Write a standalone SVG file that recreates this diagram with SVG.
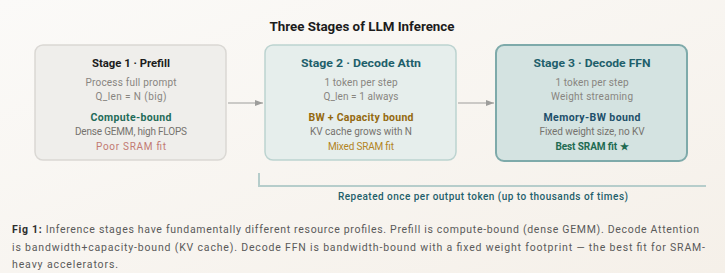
<svg xmlns="http://www.w3.org/2000/svg" width="725" height="273" viewBox="0 0 725 273">
<defs>
<linearGradient id="bg" x1="0" y1="0" x2="1" y2="1">
<stop offset="0" stop-color="#fbfaf8"/>
<stop offset="1" stop-color="#f5f0e9"/>
</linearGradient>
<marker id="arr" viewBox="0 0 8 6" refX="8" refY="3" markerWidth="8" markerHeight="6" orient="auto" markerUnits="userSpaceOnUse">
<path d="M0,0 L8,3 L0,6 Z" fill="#9d9d9b"/>
</marker>
<style>
text{font-family:Roboto,"Liberation Sans",sans-serif;}
.title{font-size:13px;font-weight:700;fill:#1c1c1c;text-anchor:middle;}
.st{font-size:11px;font-weight:700;text-anchor:middle;}
.ln{font-size:10px;fill:#888580;text-anchor:middle;}
.ln2{font-size:10px;fill:#76736e;text-anchor:middle;}
.bd{font-size:10.5px;font-weight:700;text-anchor:middle;}
.ft{font-size:10px;text-anchor:middle;}
.cap{font-size:10.5px;fill:#5a5a5a;}
.conn{stroke:#9d9d9b;stroke-width:1.2;fill:none;}
</style>
</defs>
<rect width="725" height="273" fill="url(#bg)"/>
<text class="title" x="362" y="31" textLength="185" lengthAdjust="spacingAndGlyphs">Three Stages of LLM Inference</text>

<g id="stage1">
<rect x="35" y="45" width="191" height="115" rx="8" fill="#efeeeb" stroke="#dad8d4" stroke-width="1.5"/>
<text class="st" x="131" y="67" fill="#1c1c1c" textLength="78" lengthAdjust="spacingAndGlyphs">Stage 1 · Prefill</text>
<text class="ln" x="131" y="86" textLength="91">Process full prompt</text>
<text class="ln" x="131" y="100" textLength="71">Q_len = N (big)</text>
<text class="bd" x="131" y="121" fill="#1f6b59" textLength="81">Compute-bound</text>
<text class="ln2" x="131" y="135" textLength="112">Dense GEMM, high FLOPS</text>
<text class="ft" x="131" y="150" fill="#c27a72" textLength="70">Poor SRAM fit</text>
</g>

<g id="stage2">
<rect x="265" y="45" width="191" height="115" rx="8" fill="#e6eeec" stroke="#bcd3d0" stroke-width="1.5"/>
<text class="st" x="361" y="67" fill="#1e5f6b" textLength="120" lengthAdjust="spacingAndGlyphs">Stage 2 · Decode Attn</text>
<text class="ln" x="361" y="86" textLength="73">1 token per step</text>
<text class="ln" x="361" y="100" textLength="75">Q_len = 1 always</text>
<text class="bd" x="361" y="121" fill="#94690f" textLength="105">BW + Capacity bound</text>
<text class="ln2" x="361" y="135" textLength="102">KV cache grows with N</text>
<text class="ft" x="361" y="150" fill="#b2841f" textLength="66">Mixed SRAM fit</text>
</g>

<g id="stage3">
<rect x="496" y="45" width="191" height="116" rx="8" fill="#d4e3e1" stroke="#7eaaaa" stroke-width="2"/>
<text class="st" x="592" y="67" fill="#1e5f6b" textLength="117" lengthAdjust="spacingAndGlyphs">Stage 3 · Decode FFN</text>
<text class="ln" x="592" y="86" textLength="73">1 token per step</text>
<text class="ln" x="592" y="100" textLength="82">Weight streaming</text>
<text class="bd" x="592" y="121" fill="#1d4f6a" textLength="97">Memory-BW bound</text>
<text class="ln2" x="592" y="135" textLength="105">Fixed weight size, no KV</text>
<text class="ft" x="592" y="150" fill="#1f6b52" font-weight="700" textLength="73">Best SRAM fit ★</text>
</g>

<g id="connectors">
<line class="conn" x1="228" y1="103" x2="263" y2="103" marker-end="url(#arr)"/>
<line class="conn" x1="458" y1="103" x2="494" y2="103" marker-end="url(#arr)"/>
<path d="M259,173 V186 H706" fill="none" stroke="#b6cdcb" stroke-width="2"/>
</g>
<text x="483" y="200" font-size="10px" fill="#1f5f6b" text-anchor="middle" textLength="290" style="font-weight:500">Repeated once per output token (up to thousands of times)</text>

<g id="caption">
<text class="cap" x="12" y="233" textLength="687"><tspan font-weight="700" fill="#2e2e2e">Fig 1:</tspan> Inference stages have fundamentally different resource profiles. Prefill is compute-bound (dense GEMM). Decode Attention</text>
<text class="cap" x="12" y="251" textLength="693">is bandwidth+capacity-bound (KV cache). Decode FFN is bandwidth-bound with a fixed weight footprint — the best fit for SRAM-</text>
<text class="cap" x="12" y="268" textLength="106">heavy accelerators.</text>
</g>
</svg>
